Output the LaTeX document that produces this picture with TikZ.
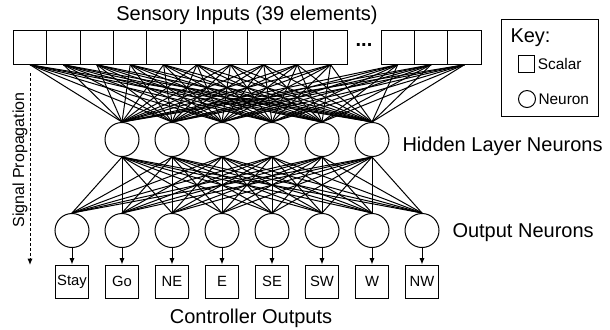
\documentclass[tikz,border=0pt]{standalone}
\usepackage{fontspec}
\setmainfont{Liberation Sans}
\usetikzlibrary{arrows.meta, positioning}

\begin{document}
\begin{tikzpicture}[x=0.5pt, y=-0.5pt,
  inbox/.style={draw, minimum size=16.7pt, inner sep=0pt},
  neuron/.style={draw, circle, minimum size=17pt, inner sep=0pt},
  outbox/.style={draw, minimum size=16.5pt, inner sep=0pt, font=\fontsize{7.4}{8}\selectfont},
  wire/.style={line width=0.5pt},
  arr/.style={-{Latex[length=3.2pt,width=2.6pt]}, line width=0.5pt},
  lbl/.style={font=\fontsize{10}{12}\selectfont, inner sep=0pt},
  small/.style={font=\fontsize{7.7}{9}\selectfont, inner sep=0pt},
  every node/.style={line width=0.5pt}
]
  \useasboundingbox (0,0) rectangle (610,329);

  % Sensory input vector
  \foreach \i in {0,...,9}
    \node[inbox] (in\i) at ({30+33.4*\i},47.5) {};
  \foreach \i/\n in {0/10,1/11,2/12}
    \node[inbox] (in\n) at ({397.7+33.4*\i},47.5) {};
  \node[font=\bfseries\fontsize{10}{12}\selectfont, inner sep=0pt] (dots) at (364,45) {...};
  \node[lbl] (title) at (247,15) {Sensory Inputs (39 elements)};

  % Hidden layer
  \foreach \i in {1,...,6}
    \node[neuron] (h\i) at ({72+50*\i},139.5) {};
  \node[lbl, anchor=west] (hlbl) at (402,146) {Hidden Layer Neurons};

  % Output layer and controller outputs
  \foreach \i/\t in {1/Stay,2/Go,3/NE,4/E,5/SE,6/SW,7/W,8/NW} {
    \node[neuron] (o\i) at ({22+50*\i},230.5) {};
    \node[outbox] (c\i) at ({22+50*\i},281.5) {\t};
  }
  \node[lbl, anchor=west] (olbl) at (452,233) {Output Neurons};
  \node[lbl] (clbl) at (251,318) {Controller Outputs};

  % Full connections
  \foreach \i in {0,...,12}
    \foreach \j in {1,...,6}
      \draw[wire] (in\i.south) -- (h\j.north);
  \foreach \i in {1,...,6}
    \foreach \j in {1,...,8}
      \draw[wire] (h\i.south) -- (o\j.north);
  \foreach \i in {1,...,8}
    \draw[arr] (o\i) -- (c\i);

  % Signal propagation
  \coordinate (sigtop) at (30,73);
  \coordinate (sigbot) at (30,265);
  \draw[arr, dash pattern=on 1.5pt off 1pt] (sigtop) -- (sigbot);
  \node[small, font=\fontsize{8}{10}\selectfont, rotate=90] (sig) at (20,160) {Signal Propagation};

  % Key
  \node[draw, minimum width=48.5pt, minimum height=48.5pt] (key) at (549.5,67.5) {};
  \node[lbl, anchor=west] (keylbl) at (510,38) {Key:};
  \node[draw, minimum size=8.3pt, inner sep=0pt] (ksq) at (526.5,64) {};
  \node[small, right=1pt of ksq] (ksqlbl) {Scalar};
  \node[neuron, minimum size=8.5pt] (kcirc) at (527,99) {};
  \node[small, right=1pt of kcirc] (kcirclbl) {Neuron};
\end{tikzpicture}
\end{document}
